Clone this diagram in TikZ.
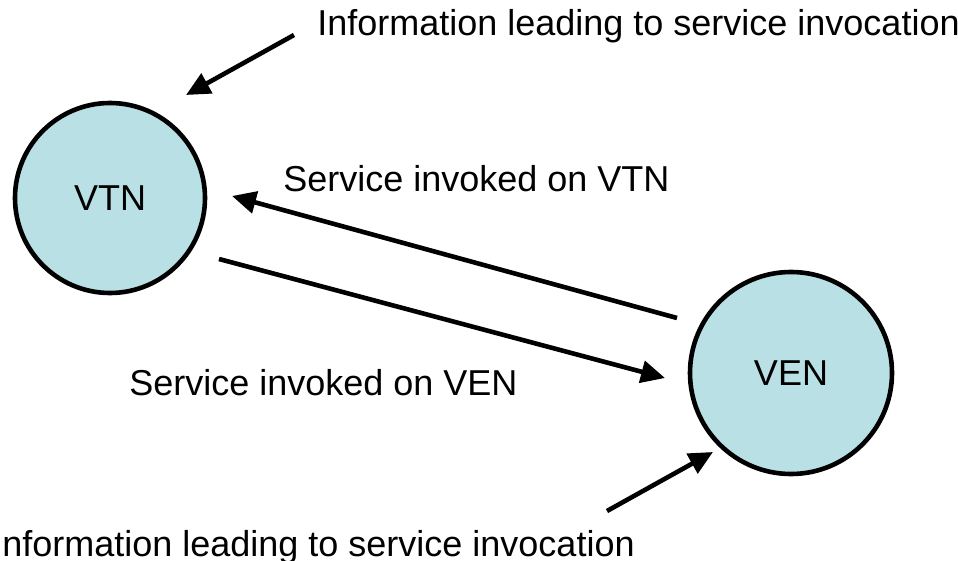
\documentclass[tikz,border=0pt]{standalone}
\usepackage{fontspec}
\setmainfont{Liberation Sans}
\usetikzlibrary{arrows.meta}
\definecolor{partyfill}{RGB}{185,224,228}

\begin{document}
\begin{tikzpicture}[x=0.5pt,y=-0.5pt,line width=2.3pt,
  party/.style={circle,draw,fill=partyfill,font=\fontsize{18}{21}\selectfont},
  lbl/.style={anchor=base west,inner sep=0pt,font=\fontsize{18}{21}\selectfont},
  arr/.style={-{Triangle[length=12pt,width=11pt]}}]

\useasboundingbox (0,0) rectangle (958,561);
\clip (0,0) rectangle (958,561);

\node [party,minimum size=95pt]  (vtn) at (110,198) {VTN};
\node [party,minimum size=101pt] (ven) at (791,373) {VEN};

\node [lbl] (topinfo) at (315,36)  {Information leading to service invocation};
\node [lbl] (botinfo) at (-10,556) {Information leading to service invocation};
\node [lbl] (onvtn)   at (281,192) {Service invoked on VTN};
\node [lbl] (onven)   at (127,395) {Service invoked on VEN};

\coordinate (topsrc) at (294,35);
\coordinate (botsrc) at (607,511);

\draw [arr]  (topsrc)  --  ([shift={(76,-103)}]vtn.center);
\draw [arr]  (botsrc)  --  ([shift={(-78,79)}]ven.center);

\draw [arr]  ([shift={(-114,-55)}]ven.center)  --  ([shift={(122,-2)}]vtn.center);
\draw [arr]  ([shift={(109,61)}]vtn.center)  --  ([shift={(-126,5)}]ven.center);

\end{tikzpicture}
\end{document}
